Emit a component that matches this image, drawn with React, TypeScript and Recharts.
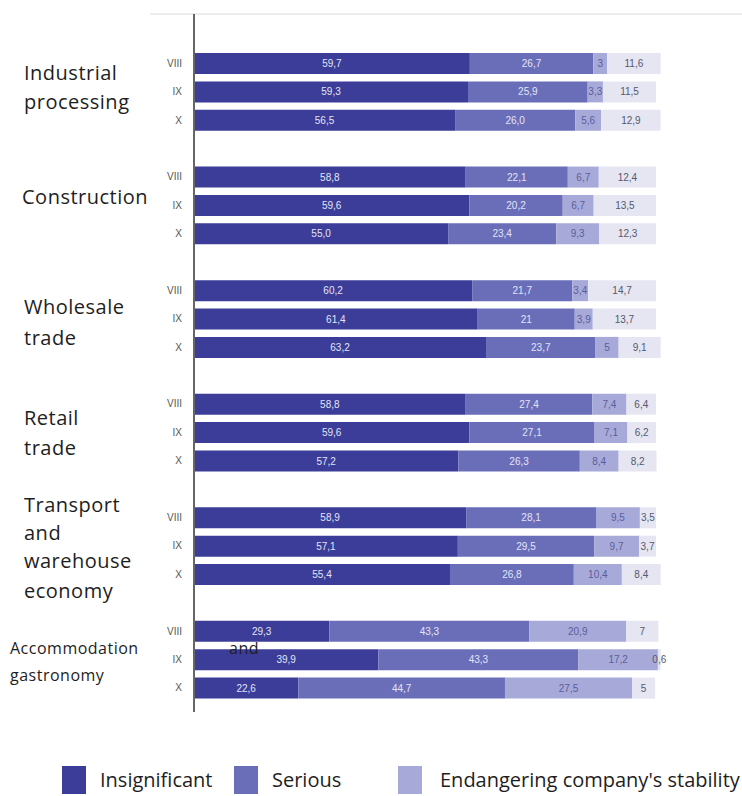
import { Bar, BarChart, LabelList, XAxis, YAxis } from "recharts";

// values as printed on the chart (comma decimals)
const months = ["VIII", "IX", "X"];
const sectors = [
  "Industrial processing",
  "Construction",
  "Wholesale trade",
  "Retail trade",
  "Transport and warehouse economy",
  "Accommodation and gastronomy",
];
const insignificant = ["59,7", "59,3", "56,5", "58,8", "59,6", "55,0", "60,2", "61,4", "63,2", "58,8", "59,6", "57,2", "58,9", "57,1", "55,4", "29,3", "39,9", "22,6"];
const serious = ["26,7", "25,9", "26,0", "22,1", "20,2", "23,4", "21,7", "21", "23,7", "27,4", "27,1", "26,3", "28,1", "29,5", "26,8", "43,3", "43,3", "44,7"];
const endangering = ["3", "3,3", "5,6", "6,7", "6,7", "9,3", "3,4", "3,9", "5", "7,4", "7,1", "8,4", "9,5", "9,7", "10,4", "20,9", "17,2", "27,5"];
const remainder = ["11,6", "11,5", "12,9", "12,4", "13,5", "12,3", "14,7", "13,7", "9,1", "6,4", "6,2", "8,2", "3,5", "3,7", "8,4", "7", "0,6", "5"];

const COLORS = ["#3b3d98", "#6a6eb9", "#a7aad9", "#e5e6f2"];

const num = (s: string) => parseFloat(s.replace(",", "."));

const rows: any[] = [];
sectors.forEach((s, si) => {
  months.forEach((m, mi) => {
    const i = si * 3 + mi;
    rows.push({
      key: s + "|" + m,
      a: num(insignificant[i]),
      b: num(serious[i]),
      c: num(endangering[i]),
      d: num(remainder[i]),
      la: insignificant[i],
      lb: serious[i],
      lc: endangering[i],
      ld: remainder[i],
    });
  });
  if (si < sectors.length - 1) rows.push({ key: "gap" + si });
});

// sector captions at the left: [text, left, centerY, fontSize]
const captions: [string, number, number, number][] = [
  ["Industrial", 24, 73, 20],
  ["processing", 24, 102, 20],
  ["Construction", 22, 197, 20],
  ["Wholesale", 24, 307, 20],
  ["trade", 24, 338, 20],
  ["Retail", 24, 418, 20],
  ["trade", 24, 448, 20],
  ["Transport", 24, 505, 20],
  ["and", 24, 533, 20],
  ["warehouse", 24, 561, 20],
  ["economy", 24, 591, 20],
  ["Accommodation", 10, 648, 16],
  ["and", 229, 648, 16],
  ["gastronomy", 10, 675, 16],
];

const legendItems = [
  { name: "Insignificant", sq: 62, tx: 100 },
  { name: "Serious", sq: 234, tx: 272 },
  { name: "Endangering company's stability", sq: 398, tx: 440 },
];

const inBar = { fill: "#e3e4f6", fontSize: 10, fontFamily: "Liberation Sans, Arial, sans-serif" };

export default function App() {
  return (
    <div style={{ position: "absolute", left: 0, top: 0, width: 742, height: 796, background: "#fff", overflow: "hidden" }}>
      <div style={{ position: "absolute", left: 150, top: 13, width: 592, height: 2, background: "#ececec" }} />
      <BarChart
        width={742}
        height={796}
        data={rows}
        layout="vertical"
        barSize={21}
        margin={{ top: 14, right: 79, bottom: 84, left: 134 }}
      >
        <XAxis type="number" hide domain={[0, 101.5]} allowDataOverflow />
        <YAxis
          type="category"
          dataKey="key"
          width={60}
          interval={0}
          padding={{ top: 35, bottom: 10 }}
          tickLine={false}
          tickMargin={6}
          axisLine={{ stroke: "#666", strokeWidth: 2 }}
          tick={{ fill: "#555", fontSize: 10, fontFamily: "Liberation Sans, Arial, sans-serif" }}
          tickFormatter={(k: string) => (k.includes("|") ? k.split("|")[1] : "")}
        />
        <Bar dataKey="a" stackId="s" fill={COLORS[0]} isAnimationActive={false}>
          <LabelList dataKey="la" position="center" style={inBar} />
        </Bar>
        <Bar dataKey="b" stackId="s" fill={COLORS[1]} isAnimationActive={false}>
          <LabelList dataKey="lb" position="center" style={inBar} />
        </Bar>
        <Bar dataKey="c" stackId="s" fill={COLORS[2]} isAnimationActive={false}>
          <LabelList dataKey="lc" position="center" style={{ ...inBar, fill: "#5a5d9a" }} />
        </Bar>
        <Bar dataKey="d" stackId="s" fill={COLORS[3]} isAnimationActive={false}>
          <LabelList dataKey="ld" position="center" style={{ ...inBar, fill: "#55586e" }} />
        </Bar>
      </BarChart>
      {captions.map(([t, x, y, fs], i) => (
        <div
          key={i}
          style={{
            position: "absolute",
            left: x,
            top: y - fs * 0.7,
            fontSize: fs,
            lineHeight: fs * 1.4 + "px",
            letterSpacing: 0.5,
            fontFamily: "'Open Sans', sans-serif",
            color: "#1e1e1e",
            whiteSpace: "nowrap",
          }}
        >
          {t}
        </div>
      ))}
      {legendItems.map((it, i) => (
        <div key={i}>
          <div style={{ position: "absolute", left: it.sq, top: 766, width: 24, height: 28, background: COLORS[i] }} />
          <div
            style={{
              position: "absolute",
              left: it.tx,
              top: 767,
              fontSize: 20,
              lineHeight: "26px",
              fontFamily: "'Open Sans', sans-serif",
              color: "#1e1e1e",
              whiteSpace: "nowrap",
            }}
          >
            {it.name}
          </div>
        </div>
      ))}
    </div>
  );
}
